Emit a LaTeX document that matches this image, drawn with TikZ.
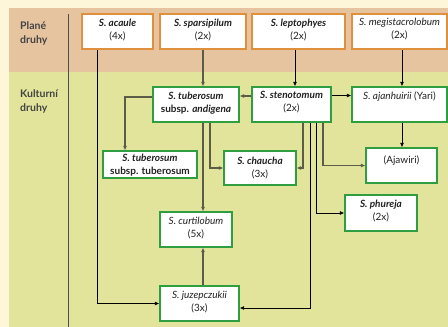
\documentclass[tikz,border=0pt]{standalone}
\usepackage{fontspec}
\setmainfont{Lato}
\usetikzlibrary{arrows.meta}
\definecolor{outerbg}{HTML}{FEF6D8}
\definecolor{tanband}{HTML}{E6C49F}
\definecolor{greenband}{HTML}{E2E49C}
\definecolor{orangeb}{HTML}{E0903C}
\definecolor{greenb}{HTML}{2E9E40}
\definecolor{grayline}{HTML}{5C5C48}
\definecolor{txt}{HTML}{222222}
\tikzset{
  wildbox/.style={draw=orangeb, line width=1.2pt, fill=white, inner sep=0pt},
  cultbox/.style={draw=greenb, line width=1.2pt, fill=white, inner sep=0pt},
  lbl/.style={anchor=north, align=center, inner sep=0pt, text=txt,
    font=\fontsize{10}{13}\selectfont},
  side/.style={anchor=north west, align=left, inner sep=0pt, text=txt!85,
    font=\fontsize{10.5}{14.5}\selectfont\bfseries},
  blk/.style={draw=black, line width=0.8pt, -{Latex[length=4.5pt,width=4pt]}},
  gry/.style={draw=grayline, line width=1.2pt, -{Latex[length=4.5pt,width=4pt]}},
}
\newcommand{\bi}[1]{\textbf{\textit{#1}}}
\begin{document}
\begin{tikzpicture}[x=1pt,y=-1pt]
\useasboundingbox (0,0) rectangle (448,327);
\fill[outerbg] (0,0) rectangle (448,327);
\fill[tanband] (9,8) rectangle (448,72);
\fill[greenband] (9,72) rectangle (448,327);
\draw[txt!80, line width=0.8pt] (68,14) -- (68,327);
\node[side] (plane) at (20,21) {Plané\\druhy};
\node[side] (kult) at (20,89) {Kulturní\\druhy};
% wild species
\node[wildbox, minimum width=71pt, minimum height=35pt] (acaule) at (117.5,31.5) {};
\node[wildbox, minimum width=86pt, minimum height=35pt] (spars) at (203,31.5) {};
\node[wildbox, minimum width=93pt, minimum height=35pt] (lept) at (298.5,31.5) {};
\node[wildbox, minimum width=95pt, minimum height=35pt] (megi) at (399.5,31.5) {};
% cultivated
\node[cultbox, minimum width=86pt, minimum height=35pt] (andig) at (196,104.5) {};
\node[cultbox, minimum width=79pt, minimum height=35pt] (sten) at (291.5,104.5) {};
\node[cultbox, minimum width=95pt, minimum height=35pt] (ajan) at (399.5,104.5) {};
\node[cultbox, minimum width=94pt, minimum height=27pt] (tub) at (150,164.5) {};
\node[cultbox, minimum width=72pt, minimum height=34pt] (chau) at (260,168) {};
\node[cultbox, minimum width=71pt, minimum height=35pt] (ajaw) at (401.5,165.5) {};
\node[cultbox, minimum width=72pt, minimum height=36pt] (phur) at (381,213) {};
\node[cultbox, minimum width=72pt, minimum height=35pt] (curt) at (196,229.5) {};
\node[cultbox, minimum width=79pt, minimum height=35pt] (juz) at (199.5,303.5) {};
% labels
\node[lbl] (acauleT) at ([yshift=-5pt]acaule.north) {\bi{S. acaule}\\(4x)};
\node[lbl] (sparsT) at ([yshift=-5pt]spars.north) {\bi{S. sparsipilum}\\(2x)};
\node[lbl] (leptT) at ([yshift=-5pt]lept.north) {\bi{S. leptophyes}\\(2x)};
\node[lbl] (megiT) at ([yshift=-5pt]megi.north) {\textit{S. megistacrolobum}\\(2x)};
\node[lbl] (andigT) at ([yshift=-5pt]andig.north) {\bi{S. tuberosum}\\\textbf{subsp. \textit{andigena}}};
\node[lbl] (stenT) at ([yshift=-5pt]sten.north) {\bi{S. stenotomum}\\(2x)};
\node[lbl] (ajanT) at ([yshift=-5pt]ajan.north) {\textit{S. ajanhuirii} (Yari)};
\node[lbl] (tubT) at ([yshift=-3.5pt]tub.north) {\bi{S. tuberosum}\\\textbf{subsp. tuberosum}};
\node[lbl] (chauT) at ([yshift=-6pt]chau.north) {\bi{S. chaucha}\\(3x)};
\node[lbl] (ajawT) at ([yshift=-8pt]ajaw.north) {(Ajawiri)};
\node[lbl] (phurT) at ([yshift=-5pt]phur.north) {\bi{S. phureja}\\(2x)};
\node[lbl] (curtT) at ([yshift=-6pt]curt.north) {\textit{S. curtilobum}\\(5x)};
\node[lbl] (juzT) at ([yshift=-6pt]juz.north) {\textit{S. juzepczukii}\\(3x)};
% connectors
\draw[blk] ([xshift=-20.5pt]acaule.south) |- (juz.west);
\draw[gry] (spars.south) -- (spars.south |- andig.north);
\draw[blk] ([xshift=-3.5pt]lept.south) -- ([xshift=3.5pt]sten.north);
\draw[blk] ([xshift=2.5pt]megi.south) -- ([xshift=2.5pt]ajan.north);
\draw[gry] ([yshift=8.5pt]sten.west) -- ([yshift=8.5pt]andig.east);
\draw[blk] ([yshift=9pt]sten.east) -- ([yshift=9pt]ajan.west);
\draw[gry] ([yshift=7.5pt]andig.west) -| ([xshift=-25pt]tub.north);
\draw[gry] ([xshift=7pt]andig.south) -- ([xshift=7pt]curt.north);
\draw[gry] ([xshift=14pt]andig.south) |- (chau.west);
\draw[gry] ([xshift=11.5pt]sten.south) |- (chau.east);
\draw[blk] ([xshift=18.5pt]sten.south) |- ([yshift=-4.5pt]juz.east);
\draw[blk] ([xshift=24.5pt]sten.south) |- (phur.west);
\draw[gry] ([xshift=31.5pt]sten.south) |- (ajaw.west);
\draw[blk] ([xshift=2.5pt]ajan.south) -- ([xshift=0.5pt]ajaw.north);
\draw[gry] ([xshift=3.5pt]juz.north) -- ([xshift=7pt]curt.south);
\end{tikzpicture}
\end{document}
